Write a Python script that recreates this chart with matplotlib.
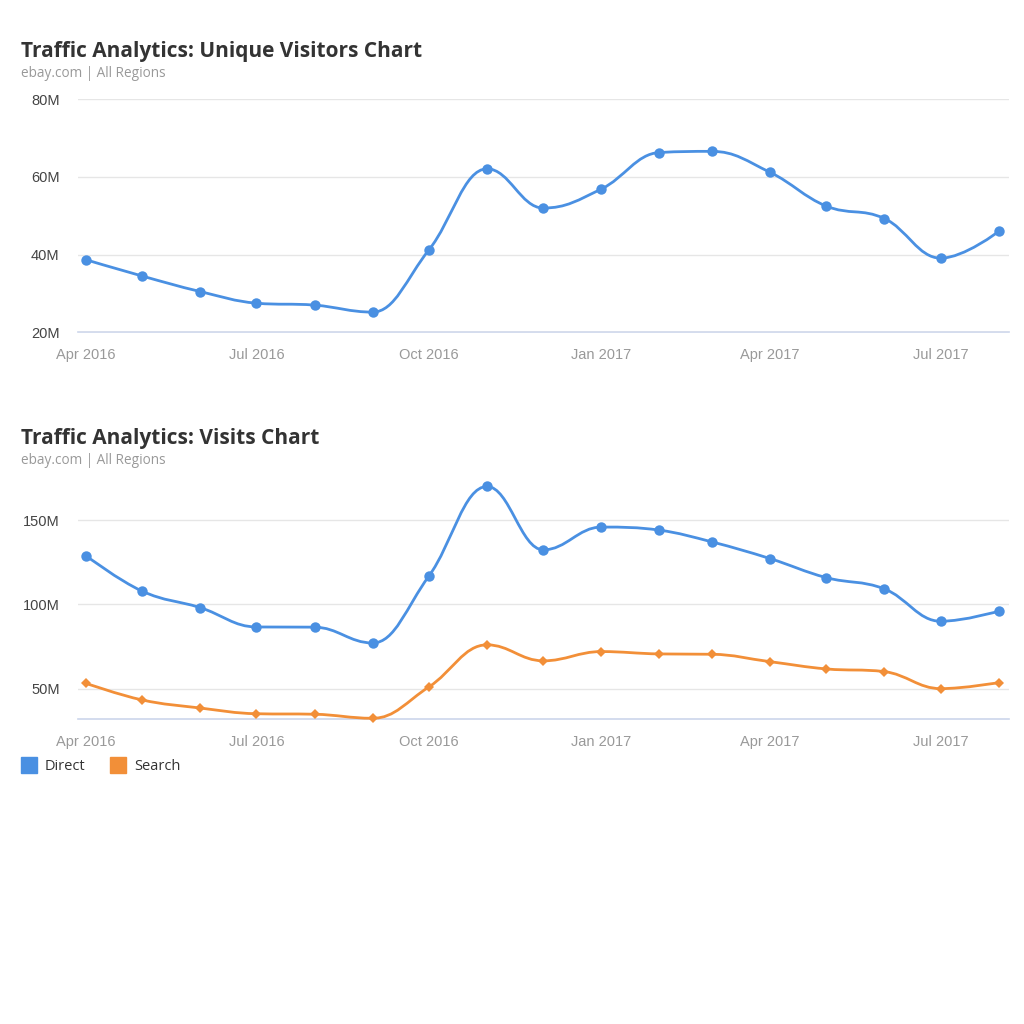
import datetime as dt
import matplotlib
matplotlib.use("Agg")
import matplotlib.pyplot as plt
import matplotlib.dates as mdates
from matplotlib.path import Path
from matplotlib.patches import PathPatch, Rectangle
from matplotlib.ticker import FuncFormatter

# monthly data, Apr 2016 .. Aug 2017 (millions)
months = [dt.datetime(2016 + (3 + i) // 12, (3 + i) % 12 + 1, 1) for i in range(17)]
unique_visitors = [38.7, 34.5, 30.5, 27.5, 27.0, 25.2, 41.2, 62.1, 52.0, 56.9,
                   66.3, 66.6, 61.2, 52.5, 49.3, 39.1, 46.0]
visits_direct = [129.0, 107.9, 98.1, 86.6, 86.5, 77.1, 116.8, 170.0, 132.4, 145.9,
                 144.1, 137.1, 127.2, 115.9, 109.2, 90.0, 96.0]
visits_search = [53.2, 43.3, 38.5, 35.1, 34.8, 32.4, 51.0, 76.0, 66.5, 72.0,
                 70.6, 70.4, 66.0, 61.7, 60.1, 50.0, 53.6]
tick_dates = [dt.datetime(2016, 4, 1), dt.datetime(2016, 7, 1), dt.datetime(2016, 10, 1),
              dt.datetime(2017, 1, 1), dt.datetime(2017, 4, 1), dt.datetime(2017, 7, 1)]

BLUE = "#4a90e2"
ORANGE = "#f28f38"
TITLE_FONT = ["Open Sans", "DejaVu Sans"]
TICK_FONT = ["Liberation Sans", "DejaVu Sans"]


def spline_path(xs, ys):
    # highcharts-like spline: bezier control points from neighbours
    sm, den = 1.5, 2.5
    n = len(xs)
    left = [(xs[i], ys[i]) for i in range(n)]
    right = [(xs[i], ys[i]) for i in range(n)]
    for i in range(1, n - 1):
        x, y = xs[i], ys[i]
        lx, ly = xs[i - 1], ys[i - 1]
        nx, ny = xs[i + 1], ys[i + 1]
        lcx, lcy = (sm * x + lx) / den, (sm * y + ly) / den
        rcx, rcy = (sm * x + nx) / den, (sm * y + ny) / den
        corr = (rcy - lcy) * (rcx - x) / (rcx - lcx) + y - rcy
        lcy += corr
        rcy += corr
        if lcy > ly and lcy > y:
            lcy = max(ly, y)
            rcy = 2 * y - lcy
        elif lcy < ly and lcy < y:
            lcy = min(ly, y)
            rcy = 2 * y - lcy
        if rcy > ny and rcy > y:
            rcy = max(ny, y)
            lcy = 2 * y - rcy
        elif rcy < ny and rcy < y:
            rcy = min(ny, y)
            lcy = 2 * y - rcy
        left[i] = (lcx, lcy)
        right[i] = (rcx, rcy)
    verts = [(xs[0], ys[0])]
    codes = [Path.MOVETO]
    for i in range(1, n):
        verts += [right[i - 1], left[i], (xs[i], ys[i])]
        codes += [Path.CURVE4] * 3
    return Path(verts, codes)


def draw_series(ax, values, color, marker, ms):
    xs = list(mdates.date2num(months))
    ax.add_patch(PathPatch(spline_path(xs, values), fill=False, edgecolor=color,
                           lw=2.0, transform=ax.transData, zorder=3, capstyle="round",
                           clip_on=False))
    ax.plot(months, values, linestyle="none", marker=marker, ms=ms, color=color,
            markeredgewidth=0, zorder=4, clip_on=False)


def style_axis(ax, ylim, yticks):
    ax.set_xlim(mdates.date2num(dt.datetime(2016, 4, 1)) - 4.3,
                mdates.date2num(dt.datetime(2017, 8, 1)) + 5.2)
    ax.set_ylim(*ylim)
    ax.set_yticks(yticks)
    ax.yaxis.set_major_formatter(FuncFormatter(lambda v, p: f"{int(v)}M"))
    ax.set_xticks(tick_dates)
    ax.xaxis.set_major_formatter(mdates.DateFormatter("%b %Y"))
    for s in ax.spines.values():
        s.set_visible(False)
    ax.grid(axis="y", color="#e6e6e6", lw=1.0, zorder=0)
    ax.axhline(ylim[0], color="#ccd6eb", lw=1.2, zorder=1, clip_on=False)
    ax.tick_params(axis="both", length=0)
    ax.tick_params(axis="y", pad=13, labelsize=10.5, labelcolor="#444444")
    ax.tick_params(axis="x", pad=11.5, labelsize=10.5, labelcolor="#999999")
    for lab in ax.get_xticklabels() + ax.get_yticklabels():
        lab.set_family(TICK_FONT)


fig = plt.figure(figsize=(10.24, 10.24), dpi=100)

# top chart: unique visitors
ax1 = fig.add_axes([0.0759, 0.6755, 0.909, 0.2275])
style_axis(ax1, (20, 80), [20, 40, 60, 80])
draw_series(ax1, unique_visitors, BLUE, "o", 7.5)
fig.text(21 / 1024, 1 - 57 / 1024, "Traffic Analytics: Unique Visitors Chart",
         fontsize=15, fontweight="bold", color="#333333", family=TITLE_FONT)
fig.text(21 / 1024, 1 - 77 / 1024, "ebay.com | All Regions",
         fontsize=9.8, color="#999999", family=TITLE_FONT)

# bottom chart: visits
ax2 = fig.add_axes([0.0759, 0.2979, 0.909, 0.2303])
style_axis(ax2, (32, 172), [50, 100, 150])
draw_series(ax2, visits_direct, BLUE, "o", 7.5)
draw_series(ax2, visits_search, ORANGE, "D", 5.5)
fig.text(21 / 1024, 1 - 444 / 1024, "Traffic Analytics: Visits Chart",
         fontsize=15, fontweight="bold", color="#333333", family=TITLE_FONT)
fig.text(21 / 1024, 1 - 464 / 1024, "ebay.com | All Regions",
         fontsize=9.8, color="#999999", family=TITLE_FONT)

# legend
for x0, name, col in [(21, "Direct", BLUE), (110, "Search", ORANGE)]:
    fig.patches.append(Rectangle((x0 / 1024, 1 - 773 / 1024), 16 / 1024, 16 / 1024,
                                 transform=fig.transFigure, color=col, figure=fig))
    fig.text((x0 + 24) / 1024, 1 - 766 / 1024, name, fontsize=10.5, color="#333333",
             va="center", family=TITLE_FONT)

fig.savefig("out.png", dpi=100, facecolor="white")
